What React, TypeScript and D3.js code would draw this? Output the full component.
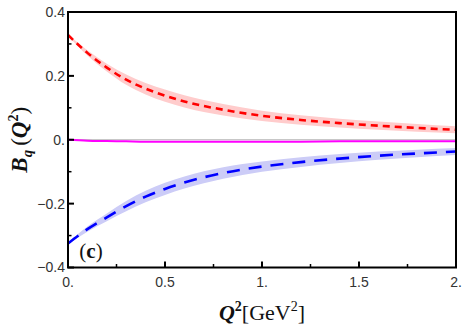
import React from "react";
import * as d3 from "d3";

// Q^2 grid [GeV^2]
const q2 = [0, 0.1, 0.2, 0.3, 0.4, 0.5, 0.6, 0.8, 1.0, 1.2, 1.4, 1.6, 1.8, 2.0];

// red (dashed) central values and half-width of band
const redMid = [0.328, 0.272, 0.226, 0.188, 0.16, 0.138, 0.12, 0.094, 0.075, 0.062, 0.052, 0.044, 0.037, 0.031];
const redErr = [0.002, 0.008, 0.012, 0.016, 0.018, 0.019, 0.019, 0.018, 0.016, 0.015, 0.014, 0.013, 0.012, 0.011];

// blue (long dashed)
const blueMid = [-0.325, -0.28, -0.243, -0.208, -0.178, -0.154, -0.134, -0.104, -0.084, -0.07, -0.059, -0.05, -0.043, -0.037];
const blueErr = [0.002, 0.008, 0.012, 0.016, 0.018, 0.019, 0.019, 0.018, 0.016, 0.015, 0.014, 0.013, 0.012, 0.011];

// magenta (solid)
const magenta = [0, -0.003, -0.004, -0.005, -0.006, -0.006, -0.006, -0.006, -0.006, -0.006, -0.005, -0.005, -0.005, -0.005];

const xTicks = [0, 0.5, 1, 1.5, 2];
const xTickLabels = ["0.", "0.5", "1.", "1.5", "2."];
const xMinor = [0.25, 0.75, 1.25, 1.75];
const yTicks = [0.4, 0.2, 0, -0.2, -0.4];
const yTickLabels = ["0.4", "0.2", "0.", "\u22120.2", "\u22120.4"];
const yMinor = [0.3, 0.1, -0.1, -0.3];

const W = 463;
const H = 327;
const margin = { top: 12, right: 7, bottom: 59.5, left: 68 };

const App = () => {
  const x = d3.scaleLinear().domain([0, 2]).range([margin.left, W - margin.right]);
  const y = d3.scaleLinear().domain([-0.4, 0.4]).range([H - margin.bottom, margin.top]);

  const idx = d3.range(q2.length);
  const band = (mid: number[], err: number[]) =>
    d3
      .area<number>()
      .x((i) => x(q2[i]))
      .y0((i) => y(mid[i] - err[i]))
      .y1((i) => y(mid[i] + err[i]))
      .curve(d3.curveMonotoneX)(idx) || "";
  const line = (vals: number[]) =>
    d3
      .line<number>()
      .x((i) => x(q2[i]))
      .y((i) => y(vals[i]))
      .curve(d3.curveMonotoneX)(idx) || "";

  const x0 = x(0);
  const x1 = x(2);
  const yTop = y(0.4);
  const yBot = y(-0.4);
  const tickFont = "'Liberation Sans', Arial, sans-serif";
  const serif = "'Liberation Serif', 'Times New Roman', serif";

  return (
    <svg
      width={W}
      height={H}
      style={{ position: "absolute", left: 0, top: 0, background: "white" }}
    >
      <defs>
        <clipPath id="plot">
          <rect x={x0} y={yTop} width={x1 - x0} height={yBot - yTop} />
        </clipPath>
      </defs>
      <g clipPath="url(#plot)">
        <path d={band(redMid, redErr)} fill="#ffcccc" />
        <path d={band(blueMid, blueErr)} fill="#ccccf7" />
        <line x1={x0} x2={x1} y1={y(0)} y2={y(0)} stroke="#b5b5b5" strokeWidth={1} />
        <path d={line(magenta)} fill="none" stroke="#ff00ff" strokeWidth={2} />
        <path d={line(redMid)} fill="none" stroke="#ff0000" strokeWidth={2.6} strokeDasharray="7,5" />
        <path d={line(blueMid)} fill="none" stroke="#0000ff" strokeWidth={2.6} strokeDasharray="13,9" />
      </g>

      {/* frame */}
      <rect x={x0} y={yTop} width={x1 - x0} height={yBot - yTop} fill="none" stroke="black" strokeWidth={2} />

      {/* y ticks */}
      {yTicks.map((t, i) => (
        <g key={"yt" + i}>
          <line x1={x0} x2={x0 + 6} y1={y(t)} y2={y(t)} stroke="black" strokeWidth={2} />
          <text
            x={x0 - 3}
            y={y(t)}
            dy="0.35em"
            textAnchor="end"
            fontFamily={tickFont}
            fontSize={14}
            fill="#333"
          >
            {yTickLabels[i]}
          </text>
        </g>
      ))}
      {yMinor.map((t, i) => (
        <line key={"ym" + i} x1={x0} x2={x0 + 3.5} y1={y(t)} y2={y(t)} stroke="black" strokeWidth={1.5} />
      ))}

      {/* x ticks */}
      {xTicks.map((t, i) => (
        <g key={"xt" + i}>
          <line x1={x(t)} x2={x(t)} y1={yBot} y2={yBot - 6} stroke="black" strokeWidth={2} />
          <text
            x={x(t)}
            y={yBot + 19}
            textAnchor="middle"
            fontFamily={tickFont}
            fontSize={14}
            fill="#333"
          >
            {xTickLabels[i]}
          </text>
        </g>
      ))}
      {xMinor.map((t, i) => (
        <line key={"xm" + i} x1={x(t)} x2={x(t)} y1={yBot} y2={yBot - 3.5} stroke="black" strokeWidth={1.5} />
      ))}

      {/* x axis title */}
      <text x={(x0 + x1) / 2} y={320} textAnchor="middle" fontFamily={serif} fontSize={22} fill="#111">
        <tspan fontWeight="bold" fontStyle="italic">Q</tspan>
        <tspan fontWeight="bold" fontSize={14} dy={-9}>2</tspan>
        <tspan dy={9}>[GeV</tspan>
        <tspan fontSize={14} dy={-9}>2</tspan>
        <tspan dy={9}>]</tspan>
      </text>

      {/* y axis title */}
      <text
        transform={`translate(27,${(yTop + yBot) / 2}) rotate(-90)`}
        textAnchor="middle"
        fontFamily={serif}
        fontSize={23}
        fill="#111"
      >
        <tspan fontWeight="bold" fontStyle="italic">B</tspan>
        <tspan fontStyle="italic" fontWeight="bold" fontSize={15} dy={5}>q</tspan>
        <tspan dy={-5} dx={4}>(</tspan>
        <tspan fontWeight="bold" fontStyle="italic">Q</tspan>
        <tspan fontWeight="bold" fontSize={14} dy={-9}>2</tspan>
        <tspan dy={9}>)</tspan>
      </text>

      {/* panel label */}
      <text x={91} y={258} textAnchor="middle" fontFamily={serif} fontSize={21} fill="#111">
        <tspan>(</tspan>
        <tspan fontWeight="bold">c</tspan>
        <tspan>)</tspan>
      </text>
    </svg>
  );
};

export default App;
